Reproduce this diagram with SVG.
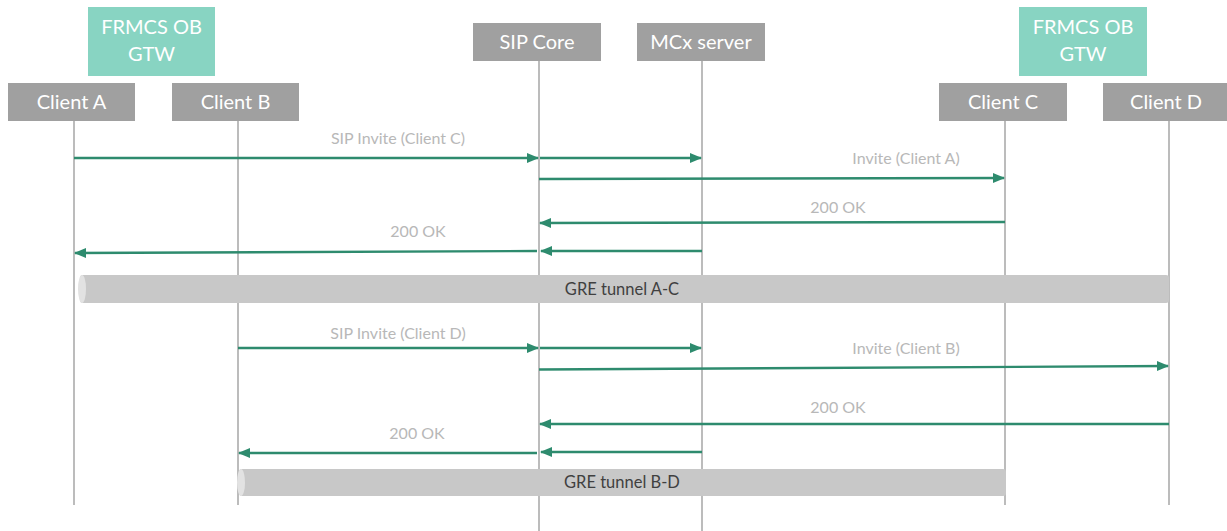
<svg xmlns="http://www.w3.org/2000/svg" width="1227" height="531" viewBox="0 0 1227 531">
<style>
.box{fill:#a0a0a0}
.gtw{fill:#88d4c2}
.bt{font-family:Lato,"Liberation Sans",sans-serif;font-size:20px;fill:#ffffff;text-anchor:middle}
.life{stroke:#a6a6a6;stroke-width:1.5;fill:none}
.msg{stroke:#2e8b6e;stroke-width:2.4;fill:none;marker-end:url(#ah)}
.lbl{font-family:Lato,"Liberation Sans",sans-serif;font-size:16px;fill:#b8b8b8;text-anchor:middle}
.tun{fill:#c8c8c8}
.tcap{fill:#e2e2e2}
.tt{font-family:Lato,"Liberation Sans",sans-serif;font-size:16.5px;fill:#404040;text-anchor:middle}
</style>
<defs>
<marker id="ah" markerWidth="12" markerHeight="12" refX="11" refY="6" orient="auto" markerUnits="userSpaceOnUse">
<path d="M0,1 L12,6 L0,11 Z" fill="#2e8b6e"/>
</marker>
</defs>
<g id="lifelines">
<line class="life" x1="74" y1="121" x2="74" y2="505"/>
<line class="life" x1="238" y1="121" x2="238" y2="505"/>
<line class="life" x1="539" y1="61" x2="539" y2="531"/>
<line class="life" x1="702" y1="61" x2="702" y2="531"/>
<line class="life" x1="1005" y1="121" x2="1005" y2="505"/>
<line class="life" x1="1169" y1="121" x2="1169" y2="505"/>
</g>
<g id="gtw-left"><rect class="gtw" x="88" y="7" width="127" height="69"/><text class="bt" x="151.5" y="34">FRMCS OB</text><text class="bt" x="151.5" y="61">GTW</text></g>
<g id="gtw-right"><rect class="gtw" x="1019" y="7" width="128" height="69"/><text class="bt" x="1083" y="34">FRMCS OB</text><text class="bt" x="1083" y="61">GTW</text></g>
<g id="client-a"><rect class="box" x="8" y="83" width="127" height="38"/><text class="bt" x="71.5" y="109">Client A</text></g>
<g id="client-b"><rect class="box" x="172" y="83" width="127" height="38"/><text class="bt" x="235.5" y="109">Client B</text></g>
<g id="sip-core"><rect class="box" x="473" y="23" width="128" height="38"/><text class="bt" x="537" y="49">SIP Core</text></g>
<g id="mcx-server"><rect class="box" x="637" y="23" width="128" height="38"/><text class="bt" x="701" y="49">MCx server</text></g>
<g id="client-c"><rect class="box" x="939" y="83" width="128" height="38"/><text class="bt" x="1003" y="109">Client C</text></g>
<g id="client-d"><rect class="box" x="1103" y="83" width="124" height="38"/><text class="bt" x="1166" y="109">Client D</text></g>
<g id="tunnel-ac">
<rect class="tun" x="80" y="275" width="1089" height="28" rx="3"/>
<ellipse class="tcap" cx="82" cy="289" rx="4" ry="14"/>
<text class="tt" x="622" y="295">GRE tunnel A-C</text>
</g>
<g id="tunnel-bd">
<rect class="tun" x="239" y="469" width="767" height="27" rx="3"/>
<ellipse class="tcap" cx="241" cy="482.5" rx="4" ry="13.5"/>
<text class="tt" x="622" y="488">GRE tunnel B-D</text>
</g>
<g id="connectors">
<line class="msg" x1="74" y1="158" x2="538" y2="158"/>
<line class="msg" x1="540" y1="158" x2="701" y2="158"/>
<line class="msg" x1="539" y1="179" x2="1004" y2="178"/>
<line class="msg" x1="1005" y1="222" x2="540" y2="223"/>
<line class="msg" x1="702" y1="251" x2="541" y2="251"/>
<line class="msg" x1="537" y1="251" x2="75" y2="253"/>
<line class="msg" x1="238" y1="348" x2="538" y2="348"/>
<line class="msg" x1="540" y1="348" x2="701" y2="348"/>
<line class="msg" x1="539" y1="369.5" x2="1168" y2="366"/>
<line class="msg" x1="1169" y1="424" x2="540" y2="424"/>
<line class="msg" x1="702" y1="452" x2="541" y2="452"/>
<line class="msg" x1="537" y1="453" x2="239" y2="453"/>
</g>
<g id="labels">
<text class="lbl" x="398" y="144">SIP Invite (Client C)</text>
<text class="lbl" x="906" y="164">Invite (Client A)</text>
<text class="lbl" x="838" y="213">200 OK</text>
<text class="lbl" x="418" y="237">200 OK</text>
<text class="lbl" x="398" y="339">SIP Invite (Client D)</text>
<text class="lbl" x="906" y="354">Invite (Client B)</text>
<text class="lbl" x="838" y="413">200 OK</text>
<text class="lbl" x="417" y="439">200 OK</text>
</g>
</svg>
